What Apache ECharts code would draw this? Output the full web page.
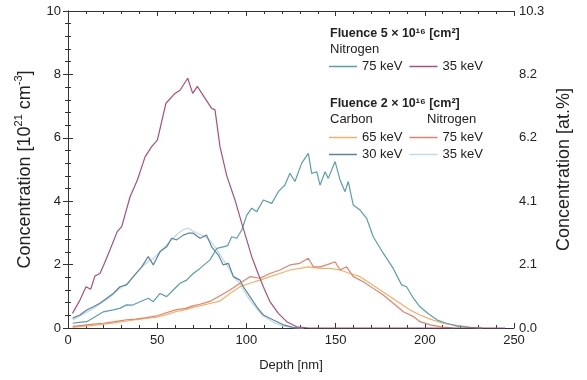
<!DOCTYPE html>
<html>
<head>
<meta charset="utf-8">
<script src="https://cdn.jsdelivr.net/npm/echarts@6/dist/echarts.min.js"></script>
<style>
  html, body { margin: 0; padding: 0; background: #fff; }
  #chart { width: 587px; height: 380px; }
</style>
</head>
<body>
<div id="chart"></div>
<script>
// depth [nm], concentration [1e21 cm^-3]
var n35_5e16 = [[2.5,0.46],[6.7,0.88],[10.1,1.30],[12.7,1.22],[15.1,1.64],[17.9,1.72],[20.5,2.05],[23.5,2.46],[27.6,3.04],[30.1,3.2],[34.8,4.14],[38.9,4.67],[43.2,5.4],[46.9,5.72],[50.1,5.93],[54.9,7.09],[60,7.4],[62.8,7.5],[67.1,7.88],[69.9,7.4],[72.5,7.62],[76.2,7.3],[80.5,6.93],[82.4,6.88],[85.2,5.72],[89,4.8],[93.6,4.04],[97.4,3.3],[100.2,2.78],[103,2.25],[105.8,1.83],[109.5,1.3],[113.2,0.83],[117.9,0.46],[122.6,0.2],[128.2,0.04],[135,0],[245,0]];

var n75_5e16 = [[2.6,0.15],[6,0.18],[10.5,0.2],[15,0.35],[19.8,0.51],[25.4,0.57],[29,0.62],[32.9,0.73],[36,0.72],[40.4,0.83],[45,0.94],[47.8,0.83],[51.6,1.09],[55.3,0.99],[59,1.2],[62.8,1.41],[66.5,1.51],[70.2,1.72],[74,1.88],[79.6,2.15],[83.4,2.51],[87,2.56],[89.5,2.6],[91.8,2.88],[94.6,2.83],[97.4,3.09],[100.2,3.56],[103,3.78],[105.8,3.67],[109.5,4.04],[114.2,3.93],[117.9,4.3],[121.6,4.51],[124.4,4.88],[127.2,4.62],[131,5.2],[134.7,5.51],[136.6,4.88],[139.4,4.93],[141.3,4.51],[144.1,4.93],[145.9,4.72],[149.7,5.25],[152.5,4.67],[155.3,4.3],[157.1,4.62],[159.9,3.88],[163.7,3.72],[167.4,3.46],[171.1,2.88],[176.7,2.36],[182.3,1.88],[187,1.36],[189.8,1.3],[193.6,0.94],[197.3,0.67],[202,0.45],[207,0.25],[212,0.15],[218,0.06],[225,0.02],[232,0]];

var c65_2e16 = [[2.6,0.02],[8,0.05],[14.2,0.08],[20,0.12],[26,0.16],[32.9,0.22],[38,0.26],[44,0.3],[49.7,0.34],[55,0.42],[60.9,0.52],[66,0.58],[70,0.65],[74,0.7],[80,0.78],[85.2,0.85],[90.8,1.09],[96.4,1.3],[102,1.41],[107.6,1.51],[113.2,1.62],[118.8,1.72],[124.4,1.83],[130,1.88],[134.7,1.93],[141.3,1.88],[146.9,1.88],[152.5,1.83],[158.1,1.72],[163.7,1.62],[169.3,1.41],[174.9,1.2],[180.5,0.99],[186.1,0.78],[191.7,0.57],[197.3,0.41],[203,0.28],[210,0.15],[218,0.08],[225,0.03],[232,0]];

var n75_2e16 = [[2.6,0.05],[8,0.08],[14.2,0.12],[20,0.15],[26,0.2],[32.9,0.26],[38,0.28],[44,0.33],[49.7,0.38],[55,0.48],[60.9,0.58],[66,0.62],[70,0.7],[74,0.75],[80,0.85],[85.2,1.02],[90.8,1.2],[96.4,1.41],[102,1.62],[107.6,1.57],[113.2,1.72],[118.8,1.83],[124.4,1.99],[130,2.04],[134.7,2.2],[137.5,1.93],[141.3,1.93],[145,1.99],[149.7,2.09],[152.5,1.83],[156.2,1.93],[159.9,1.62],[165.5,1.46],[171.1,1.25],[176.7,1.04],[182.3,0.78],[188,0.51],[193.6,0.36],[197.3,0.2],[203,0.1],[210,0.03],[216,0]];

var c30_2e16 = [[2.6,0.31],[6.7,0.41],[10.5,0.57],[14.2,0.67],[17.9,0.78],[21.7,0.94],[25.4,1.09],[29.1,1.3],[32.9,1.36],[36.6,1.62],[41.3,1.93],[45,2.25],[47.8,1.99],[51.6,2.41],[55.3,2.56],[58.1,2.83],[60.9,2.78],[64.6,2.93],[67.4,2.99],[70.2,2.99],[74,2.83],[77.7,2.93],[80.5,2.56],[84.3,2.3],[87,1.99],[89.9,2.04],[92.7,1.62],[96.4,1.51],[98.3,1.3],[102,0.99],[105.8,0.67],[109.5,0.41],[115.1,0.25],[120.7,0.1],[126.3,0.02],[132,0]];

var n35_2e16 = [[2.6,0.25],[6.7,0.38],[10.5,0.5],[14.2,0.62],[17.9,0.76],[21.7,0.9],[25.4,1.06],[29.1,1.25],[32.9,1.4],[36.6,1.62],[41.3,1.92],[45,2.1],[48,2.2],[51.6,2.4],[55.3,2.62],[58.1,2.78],[61,2.95],[64.6,3.1],[67.4,3.15],[70.2,3.05],[74,2.95],[77.7,2.85],[80.5,2.7],[84.3,2.4],[87,2.15],[90,1.9],[92.7,1.62],[96.4,1.4],[98.3,1.2],[102,0.88],[105.8,0.6],[109.5,0.38],[115.1,0.18],[120.7,0.06],[126.3,0.01],[132,0]];

var legendLabels = {
  'N75_5': '75 keV', 'N35_5': '35 keV',
  'C65_2': '65 keV', 'N75_2': '75 keV',
  'C30_2': '30 keV', 'N35_2': '35 keV'
};

var FONT = 'Liberation Sans';
var AX = '#333';

function xAx(pos, showLabel) {
  return {
    type: 'value', position: pos, min: 0, max: 250, interval: 50,
    name: showLabel ? 'Depth [nm]' : '', nameLocation: 'middle', nameGap: 31,
    nameTextStyle: { fontFamily: FONT, fontSize: 13, color: '#222' },
    axisLine: { show: true, onZero: false, lineStyle: { color: AX, width: 1 } },
    axisTick: { show: true, inside: true, length: 5, lineStyle: { color: AX } },
    minorTick: { show: true, splitNumber: 5, length: 3, lineStyle: { color: AX } },
    axisLabel: { show: showLabel, fontFamily: FONT, fontSize: 13, color: '#222', margin: 6 },
    splitLine: { show: false }
  };
}

var myChart = echarts.init(document.getElementById('chart'));

function mk(name, data, color, width, z) {
  return {
    name: name, type: 'line', data: data, symbol: 'none', z: z,
    lineStyle: { color: color, width: width }, itemStyle: { color: color }
  };
}

var legendBase = {
  orient: 'horizontal', icon: 'rect', itemWidth: 28, itemHeight: 1.5, itemGap: 7, padding: 0,
  textStyle: { fontFamily: FONT, fontSize: 13, color: '#222' },
  formatter: function (n) { return legendLabels[n]; },
  selectedMode: false
};

var option = {
  backgroundColor: '#fff',
  animation: false,
  grid: { left: 68, right: 73, top: 11, bottom: 52 },
  xAxis: [xAx('bottom', true), xAx('top', false)],
  yAxis: [
    {
      type: 'value', min: 0, max: 10, interval: 2, position: 'left',
      name: 'Concentration [10{sup|21} cm{sup|-3}]', nameLocation: 'middle', nameGap: 25,
      nameTextStyle: {
        fontFamily: FONT, fontSize: 18, color: '#222', lineHeight: 22,
        rich: { sup: { fontFamily: FONT, fontSize: 11, color: '#222', verticalAlign: 'top', lineHeight: 22, padding: [0, 0, 8, 0] } }
      },
      axisLine: { show: true, lineStyle: { color: AX } },
      axisTick: { show: true, inside: true, length: 5, lineStyle: { color: AX } },
      minorTick: { show: true, splitNumber: 5, length: 3, lineStyle: { color: AX } },
      axisLabel: { fontFamily: FONT, fontSize: 13, color: '#222', margin: 7 },
      splitLine: { show: false }
    },
    {
      type: 'value', min: 0, max: 10.3, interval: 2.06, position: 'right',
      name: 'Concentration [at.%]', nameLocation: 'middle', nameGap: 40, nameRotate: 90,
      nameTextStyle: { fontFamily: FONT, fontSize: 18, color: '#222' },
      axisLine: { show: true, lineStyle: { color: AX } },
      axisTick: { show: true, inside: true, length: 5, lineStyle: { color: AX } },
      minorTick: { show: true, splitNumber: 5, length: 3, lineStyle: { color: AX } },
      axisLabel: { fontFamily: FONT, fontSize: 13, color: '#222', margin: 5,
        formatter: function (v) { return v.toFixed(1); } },
      splitLine: { show: false }
    }
  ],
  legend: [
    Object.assign({}, legendBase, { left: 329, top: 60, data: ['N75_5', 'N35_5'] }),
    Object.assign({}, legendBase, { left: 329, top: 131, data: ['C65_2', 'N75_2'] }),
    Object.assign({}, legendBase, { left: 329, top: 148, data: ['C30_2', 'N35_2'] })
  ],
  graphic: [
    { type: 'text', left: 330, top: 27, style: { text: 'Fluence 5 \u00D7 10\u00B9\u2076 [cm\u00B2]', font: 'bold 12.5px ' + FONT, fill: '#222' } },
    { type: 'text', left: 330, top: 43, style: { text: 'Nitrogen', font: '13px ' + FONT, fill: '#222' } },
    { type: 'text', left: 330, top: 97, style: { text: 'Fluence 2 \u00D7 10\u00B9\u2076 [cm\u00B2]', font: 'bold 12.5px ' + FONT, fill: '#222' } },
    { type: 'text', left: 330, top: 113, style: { text: 'Carbon', font: '13px ' + FONT, fill: '#222' } },
    { type: 'text', left: 427, top: 113, style: { text: 'Nitrogen', font: '13px ' + FONT, fill: '#222' } }
  ],
  series: [
    mk('N35_2', n35_2e16, '#c3dae8', 1.3, 2),
    mk('C30_2', c30_2e16, '#5b83a3', 1.2, 3),
    mk('C65_2', c65_2e16, '#f4b060', 1.2, 2),
    mk('N75_2', n75_2e16, '#e6806a', 1.2, 3),
    mk('N75_5', n75_5e16, '#5a9fab', 1.2, 4),
    mk('N35_5', n35_5e16, '#a9507a', 1.2, 4)
  ]
};

myChart.setOption(option);
</script>
</body>
</html>
